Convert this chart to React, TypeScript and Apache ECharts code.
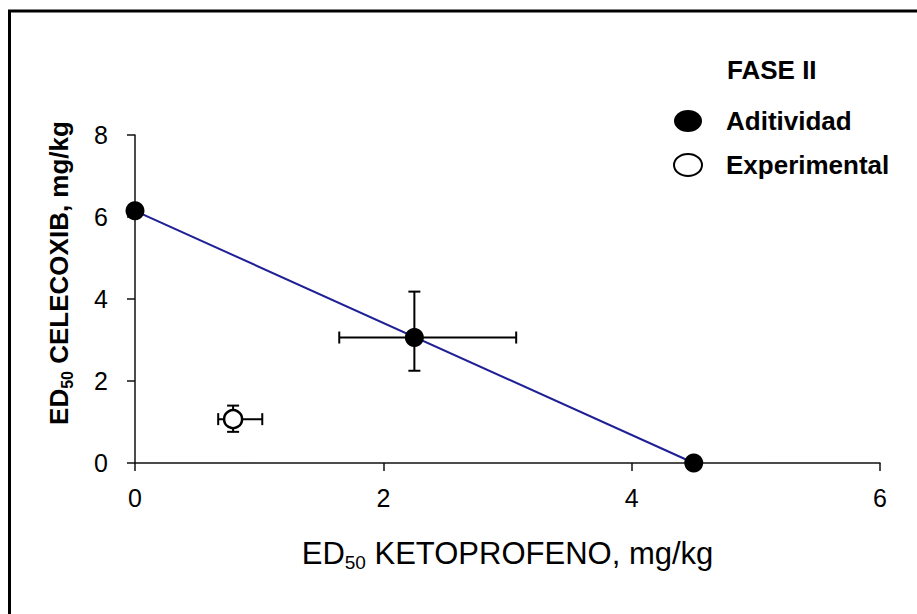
import React, { useEffect, useRef } from "react";
import * as echarts from "echarts";

// ---- data ----
const aditividadX = [0, 2.25, 4.5];
const aditividadY = [6.15, 3.06, 0];
// error bars: [x, y, xLow, xHigh, yLow, yHigh]
const aditividadErr = [[2.25, 3.06, 1.645, 3.07, 2.25, 4.18]];
const experimentalX = [0.79];
const experimentalY = [1.07];
const experimentalErr = [[0.79, 1.07, 0.67, 1.025, 0.76, 1.4]];
const lineX = [0, 4.5];
const lineY = [6.15, 0];
const xTicks = { min: 0, max: 6, interval: 2 };
const yTicks = { min: 0, max: 8, interval: 2 };
const legendTitle = "FASE II";
const seriesNames = ["Aditividad", "Experimental"];

const FONT = "'Liberation Sans', Arial, sans-serif";
const ellipseIcon = "path://M0,11A14,11,0,1,1,28,11A14,11,0,1,1,0,11Z";

export default function App() {
  const ref = useRef<HTMLDivElement>(null);
  useEffect(() => {
    if (!ref.current) return;
    const chart = echarts.init(ref.current, undefined, { renderer: "svg" });
    const errRender = (params: any, api: any) => {
      const x = api.value(0), y = api.value(1);
      const xl = api.coord([api.value(2), y]);
      const xh = api.coord([api.value(3), y]);
      const yl = api.coord([x, api.value(4)]);
      const yh = api.coord([x, api.value(5)]);
      const cap = 6;
      const st = { stroke: "#000", lineWidth: 2 };
      return {
        type: "group",
        children: [
          { type: "line", shape: { x1: xl[0], y1: xl[1], x2: xh[0], y2: xh[1] }, style: st },
          { type: "line", shape: { x1: xl[0], y1: xl[1] - cap, x2: xl[0], y2: xl[1] + cap }, style: st },
          { type: "line", shape: { x1: xh[0], y1: xh[1] - cap, x2: xh[0], y2: xh[1] + cap }, style: st },
          { type: "line", shape: { x1: yl[0], y1: yl[1], x2: yh[0], y2: yh[1] }, style: st },
          { type: "line", shape: { x1: yl[0] - cap, y1: yl[1], x2: yl[0] + cap, y2: yl[1] }, style: st },
          { type: "line", shape: { x1: yh[0] - cap, y1: yh[1], x2: yh[0] + cap, y2: yh[1] }, style: st },
        ],
      };
    };
    chart.setOption({
      animation: false,
      backgroundColor: "#fff",
      textStyle: { fontFamily: FONT, color: "#000" },
      title: {
        text: legendTitle,
        left: 727,
        top: 57,
        padding: 0,
        textStyle: { fontSize: 26, fontWeight: "bold", color: "#000", fontFamily: FONT },
      },
      legend: {
        orient: "vertical",
        left: 673,
        top: 108,
        padding: 0,
        itemWidth: 28,
        itemHeight: 22,
        itemGap: 18,
        selectedMode: false,
        data: seriesNames.map((n) => ({ name: n, icon: ellipseIcon })),
        textStyle: { fontSize: 26, fontWeight: "bold", color: "#000", fontFamily: FONT, padding: [0, 0, 0, 19] },
      },
      graphic: [
        {
          type: "rect",
          shape: { x: 9.5, y: 11, width: 1000, height: 1000 },
          style: { fill: "none", stroke: "#000", lineWidth: 3 },
          silent: true,
        },
      ],
      grid: { left: 135, top: 135, right: 37, bottom: 151 },
      xAxis: {
        type: "value",
        ...xTicks,
        name: "{a|ED}{s|50}{a| KETOPROFENO, mg/kg}",
        nameLocation: "middle",
        nameGap: 72,
        nameTextStyle: {
          rich: {
            a: { fontSize: 31, lineHeight: 37, color: "#000", fontFamily: FONT },
            s: { fontSize: 19, lineHeight: 21, verticalAlign: "bottom", color: "#000", fontFamily: FONT },
          },
        },
        splitLine: { show: false },
        axisLine: { lineStyle: { color: "#111", width: 1.5 } },
        axisTick: { length: 8, lineStyle: { color: "#111", width: 1.5 } },
        axisLabel: { fontSize: 25, color: "#000", margin: 22, fontFamily: FONT },
      },
      yAxis: {
        type: "value",
        ...yTicks,
        name: "{a|ED}{s|50}{a| CELECOXIB, mg/kg}",
        nameLocation: "middle",
        nameGap: 60,
        nameTextStyle: {
          padding: [0, 0, 0, 52],
          rich: {
            a: { fontSize: 26, lineHeight: 32, fontWeight: "bold", color: "#000", fontFamily: FONT },
            s: { fontSize: 16, lineHeight: 18, fontWeight: "bold", verticalAlign: "bottom", color: "#000", fontFamily: FONT },
          },
        },
        splitLine: { show: false },
        axisLine: { show: true, lineStyle: { color: "#111", width: 1.5 } },
        axisTick: { show: true, length: 8, lineStyle: { color: "#111", width: 1.5 } },
        axisLabel: { fontSize: 25, color: "#000", margin: 27, fontFamily: FONT },
      },
      series: [
        {
          type: "line",
          name: "additivity-line",
          data: lineX.map((x, i) => [x, lineY[i]]),
          symbol: "none",
          lineStyle: { color: "#1f1f96", width: 2 },
          z: 1,
        },
        {
          type: "custom",
          name: "err-adit",
          renderItem: errRender,
          data: aditividadErr,
          encode: { x: [0, 2, 3], y: [1, 4, 5] },
          z: 2,
        },
        {
          type: "custom",
          name: "err-exp",
          renderItem: errRender,
          data: experimentalErr,
          encode: { x: [0, 2, 3], y: [1, 4, 5] },
          z: 2,
        },
        {
          type: "scatter",
          name: seriesNames[0],
          data: aditividadX.map((x, i) => [x, aditividadY[i]]),
          symbol: "circle",
          symbolSize: 19,
          itemStyle: { color: "#000", opacity: 1 },
          z: 3,
        },
        {
          type: "scatter",
          name: seriesNames[1],
          data: experimentalX.map((x, i) => [x, experimentalY[i]]),
          symbol: "circle",
          symbolSize: 18,
          itemStyle: { color: "#fff", borderColor: "#000", borderWidth: 2.5, opacity: 1 },
          z: 3,
        },
      ],
    });
    return () => chart.dispose();
  }, []);
  return (
    <div
      ref={ref}
      style={{ position: "absolute", left: 0, top: 0, width: 917, height: 614 }}
    />
  );
}
